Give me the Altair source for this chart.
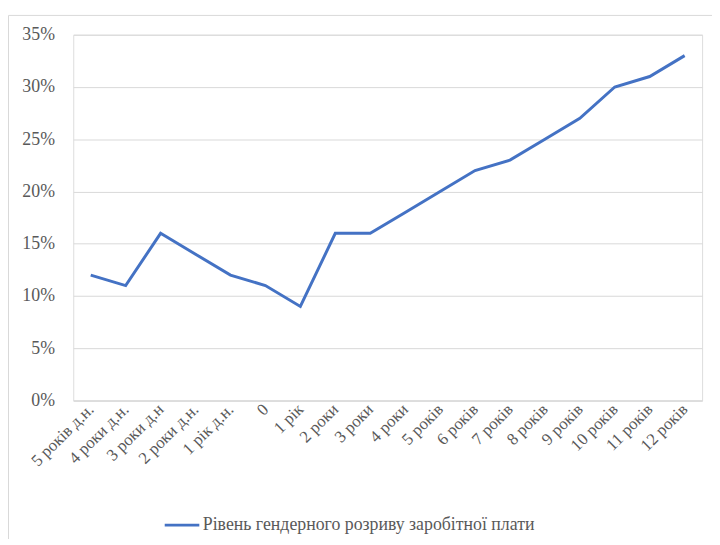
import altair as alt
import pandas as pd

categories = ["5 років д.н.", "4 роки д.н.", "3 роки д.н", "2 роки д.н.", "1 рік д.н.",
              "0", "1 рік", "2 роки", "3 роки", "4 роки", "5 років", "6 років",
              "7 років", "8 років", "9 років", "10 років", "11 років", "12 років"]
values = [0.12, 0.11, 0.16, 0.14, 0.12, 0.11, 0.09, 0.16, 0.16, 0.18, 0.20, 0.22,
          0.23, 0.25, 0.27, 0.30, 0.31, 0.33]
series_name = "Рівень гендерного розриву заробітної плати"

df = pd.DataFrame({"cat": categories, "val": values, "series": series_name})

FONT = "Liberation Serif, Times New Roman, serif"
GREY = "#595959"
GRID = "#d9d9d9"
W, H = 636, 370

line = alt.Chart(df).mark_line(strokeWidth=3, color="#4472C4").encode(
    x=alt.X("cat:N", sort=categories, title=None,
            scale=alt.Scale(type="point", padding=0.5),
            axis=alt.Axis(labelAngle=-45, labelAlign="right", labelBaseline="middle",
                          labelPadding=6, ticks=False, domain=True, domainColor=GRID,
                          domainWidth=1, labelFont=FONT, labelFontSize=17,
                          labelColor=GREY, labelOverlap=False)),
    y=alt.Y("val:Q", title=None,
            scale=alt.Scale(domain=[0, 0.35], nice=False),
            axis=alt.Axis(format=".0%", values=[0, 0.05, 0.1, 0.15, 0.2, 0.25, 0.3, 0.35],
                          ticks=False, domain=False, gridColor=GRID, gridWidth=1,
                          labelPadding=19, labelFont=FONT, labelFontSize=18,
                          labelColor=GREY)),
    color=alt.Color("series:N", scale=alt.Scale(range=["#4472C4"]),
                    legend=alt.Legend(title=None, orient="none", legendX=91, legendY=477,
                                      symbolType="stroke", symbolSize=1225,
                                      symbolStrokeWidth=3, labelFont=FONT,
                                      labelFontSize=18, labelColor=GREY,
                                      labelOffset=2, labelLimit=600)),
)

border = alt.Chart(pd.DataFrame({"b": [1]})).mark_rect(
    fill=None, stroke=GRID, strokeWidth=1, clip=False
).encode(
    x=alt.value(-65.5), x2=alt.value(700), y=alt.value(-19.5), y2=alt.value(600)
)

chart = alt.layer(border, line).properties(
    width=W, height=H,
    autosize=alt.AutoSizeParams(type="none"),
    padding={"left": 66, "top": 24, "right": 10, "bottom": 137},
).configure_view(stroke=None).configure(background="white", font=FONT)

chart.save("out.html", embed_options={"renderer": "svg", "actions": False})
